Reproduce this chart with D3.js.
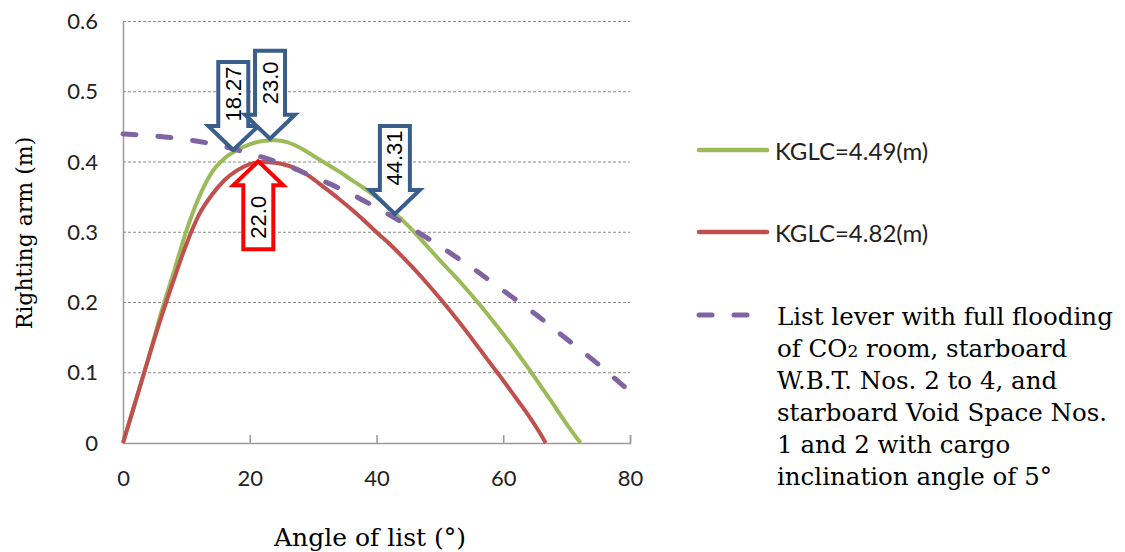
<!DOCTYPE html>
<html>
<head>
<meta charset="utf-8">
<script src="https://cdn.jsdelivr.net/npm/d3@7"></script>
<style>
  html, body { margin: 0; padding: 0; background: #fff; }
  svg { display: block; }
</style>
</head>
<body>
<svg id="chart" width="1125" height="552"></svg>
<script>
// ---------------- data ----------------
const xTicks = [0, 20, 40, 60, 80];
const yTicks = [0, 0.1, 0.2, 0.3, 0.4, 0.5, 0.6];
const yTickLabels = ["0", "0.1", "0.2", "0.3", "0.4", "0.5", "0.6"];

// KGLC = 4.49 m
const greenAngles = [0, 2, 4, 6, 8, 10, 12, 14, 16, 18, 20, 22, 24, 26, 28, 30, 32, 34, 36, 38, 40, 42, 44, 46, 48, 50, 52, 54, 56, 58, 60, 62, 64, 66, 68, 70, 72.2];
const greenValues = [0, 0.06, 0.12, 0.185, 0.243, 0.302, 0.35, 0.385, 0.405, 0.417, 0.425, 0.43, 0.431, 0.428, 0.42, 0.409, 0.398, 0.387, 0.375, 0.363, 0.35, 0.335, 0.318, 0.3, 0.28, 0.26, 0.241, 0.221, 0.2, 0.178, 0.155, 0.131, 0.106, 0.08, 0.054, 0.027, 0];

// KGLC = 4.82 m
const redAngles = [0, 2, 4, 6, 8, 10, 12, 14, 16, 18, 20, 22, 24, 26, 28, 30, 32, 34, 36, 38, 40, 42, 44, 46, 48, 50, 52, 54, 56, 58, 60, 62, 64, 66, 66.7];
const redValues = [0, 0.06, 0.12, 0.178, 0.232, 0.283, 0.325, 0.353, 0.374, 0.388, 0.397, 0.4, 0.399, 0.395, 0.388, 0.376, 0.362, 0.348, 0.333, 0.317, 0.3, 0.284, 0.266, 0.247, 0.227, 0.206, 0.184, 0.161, 0.137, 0.113, 0.089, 0.064, 0.039, 0.011, 0];

// List lever (dashed)
const listAngles = [0, 5, 10, 15, 20, 25, 30, 35, 40, 45, 50, 55, 60, 65, 70, 75, 80];
const listValues = [0.44, 0.437, 0.432, 0.424, 0.412, 0.398, 0.379, 0.359, 0.335, 0.309, 0.28, 0.25, 0.217, 0.184, 0.148, 0.112, 0.073];

// annotation arrows (tip position in data units)
const arrowLabels = ["18.27", "23.0", "44.31", "22.0"];
const arrowTipX = [17.4, 23.2, 42.9, 21.35];
const arrowTipY = [0.417, 0.433, 0.326, 0.401];
const arrowDirs = ["down", "down", "down", "up"];

const legendLabels = ["KGLC=4.49(m)", "KGLC=4.82(m)"];
const listLegendLines = [
  ["List lever with full flooding"],
  ["of CO", "2", " room, starboard"],
  ["W.B.T. Nos. 2 to 4, and"],
  ["starboard Void Space Nos."],
  ["1 and 2 with cargo"],
  ["inclination angle of 5°"]
];

// ---------------- drawing ----------------
const svg = d3.select("#chart");
const plot = { left: 123, right: 630, top: 21.5, bottom: 443 };

const x = d3.scaleLinear().domain([0, 80]).range([plot.left, plot.right]);
const y = d3.scaleLinear().domain([0, 0.6]).range([plot.bottom, plot.top]);

const sans = "Lato, 'Open Sans', sans-serif";
const serif = "'DejaVu Serif', serif";

// gridlines
svg.append("g")
  .selectAll("line")
  .data(yTicks.filter(d => d > 0))
  .join("line")
  .attr("x1", plot.left).attr("x2", plot.right)
  .attr("y1", d => y(d)).attr("y2", d => y(d))
  .attr("stroke", "#8a8a8a")
  .attr("stroke-width", 1)
  .attr("stroke-dasharray", "3,2");

// x axis
const xAxis = svg.append("g")
  .attr("transform", `translate(0,${plot.bottom})`)
  .call(d3.axisBottom(x).tickValues(xTicks).tickSize(-8).tickPadding(27).tickFormat(d3.format("d")));
xAxis.select(".domain").attr("stroke", "#9a9a9a").attr("stroke-width", 1.5);
xAxis.selectAll(".tick line").attr("stroke", "#9a9a9a").attr("stroke-width", 1.5);
xAxis.selectAll(".tick text").attr("font-family", sans).attr("font-size", 22).attr("fill", "#222");

// y axis
const yAxis = svg.append("g")
  .attr("transform", `translate(${plot.left},0)`)
  .call(d3.axisLeft(y).tickValues(yTicks).tickSize(0).tickPadding(25).tickFormat((d, i) => yTickLabels[i]));
yAxis.select(".domain").attr("stroke", "#9a9a9a").attr("stroke-width", 1.5);
yAxis.selectAll(".tick text").attr("font-family", sans).attr("font-size", 22).attr("fill", "#222");

// axis titles
svg.append("text")
  .attr("x", 370).attr("y", 546)
  .attr("text-anchor", "middle")
  .attr("font-family", serif).attr("font-size", 25)
  .attr("fill", "#000")
  .text("Angle of list (°)");

svg.append("text")
  .attr("transform", `translate(32,${233}) rotate(-90)`)
  .attr("text-anchor", "middle")
  .attr("font-family", serif).attr("font-size", 22)
  .attr("fill", "#000")
  .text("Righting arm (m)");

// lines
const line = d3.line().x(d => x(d[0])).y(d => y(d[1])).curve(d3.curveMonotoneX);

svg.append("path")
  .datum(greenAngles.map((a, i) => [a, greenValues[i]]))
  .attr("d", line)
  .attr("fill", "none").attr("stroke", "#9bbb59").attr("stroke-width", 4)
  .attr("stroke-linejoin", "round");

svg.append("path")
  .datum(redAngles.map((a, i) => [a, redValues[i]]))
  .attr("d", line)
  .attr("fill", "none").attr("stroke", "#c0504d").attr("stroke-width", 4)
  .attr("stroke-linejoin", "round");

svg.append("path")
  .datum(listAngles.map((a, i) => [a, listValues[i]]))
  .attr("d", line)
  .attr("fill", "none").attr("stroke", "#8064a2").attr("stroke-width", 5)
  .attr("stroke-linecap", "round")
  .attr("stroke-dasharray", "13,22");

// arrows
const arrowLen = 88, headLen = 24, headHalf = 25, shaftHalf = 15;
function arrowPath() {
  return `M0,0 L${-headHalf},${-headLen} L${-shaftHalf},${-headLen} L${-shaftHalf},${-arrowLen} L${shaftHalf},${-arrowLen} L${shaftHalf},${-headLen} L${headHalf},${-headLen} Z`;
}
const arrows = svg.append("g")
  .selectAll("g")
  .data(arrowLabels.map((l, i) => ({ label: l, tx: arrowTipX[i], ty: arrowTipY[i], dir: arrowDirs[i] })))
  .join("g")
  .attr("transform", d => `translate(${x(d.tx)},${y(d.ty)})`);

arrows.append("path")
  .attr("d", arrowPath())
  .attr("transform", d => d.dir === "up" ? "scale(1,-1)" : null)
  .attr("fill", "#fff")
  .attr("stroke", d => d.dir === "up" ? "#ff0000" : "#3a5e8c")
  .attr("stroke-width", 4)
  .attr("stroke-linejoin", "miter");

arrows.append("text")
  .attr("transform", d => {
    const cy = d.dir === "up" ? (arrowLen + headLen) / 2 : -(arrowLen + headLen) / 2;
    return `translate(0,${cy}) rotate(-90)`;
  })
  .attr("text-anchor", "middle")
  .attr("dominant-baseline", "central")
  .attr("font-family", "'Liberation Sans', Arial, sans-serif")
  .attr("font-size", 22)
  .attr("fill", "#000")
  .text(d => d.label);

// legend
const legend = svg.append("g");
const legendColors = ["#9bbb59", "#c0504d"];
const legendY = [150, 232];
legendLabels.forEach((lab, i) => {
  legend.append("line")
    .attr("x1", 699).attr("x2", 767)
    .attr("y1", legendY[i]).attr("y2", legendY[i])
    .attr("stroke", legendColors[i]).attr("stroke-width", 4.5)
    .attr("stroke-linecap", "round");
  legend.append("text")
    .attr("x", 775).attr("y", legendY[i])
    .attr("dominant-baseline", "central")
    .attr("font-family", sans).attr("font-size", 24).attr("fill", "#222")
    .text(lab);
});
legend.append("line")
  .attr("x1", 699).attr("x2", 752)
  .attr("y1", 315).attr("y2", 315)
  .attr("stroke", "#8064a2").attr("stroke-width", 5)
  .attr("stroke-linecap", "round")
  .attr("stroke-dasharray", "13,22");

const legText = legend.append("text")
  .attr("font-family", serif).attr("font-size", 24.5).attr("fill", "#000");
listLegendLines.forEach((parts, i) => {
  const base = 325 + i * 32;
  const t = legText.append("tspan").attr("x", 777).attr("y", base);
  parts.forEach((p, j) => {
    if (parts.length === 3 && j === 1) {
      t.append("tspan").attr("font-size", 17).text(p);
    } else {
      t.append("tspan").text(p);
    }
  });
});
</script>
</body>
</html>
